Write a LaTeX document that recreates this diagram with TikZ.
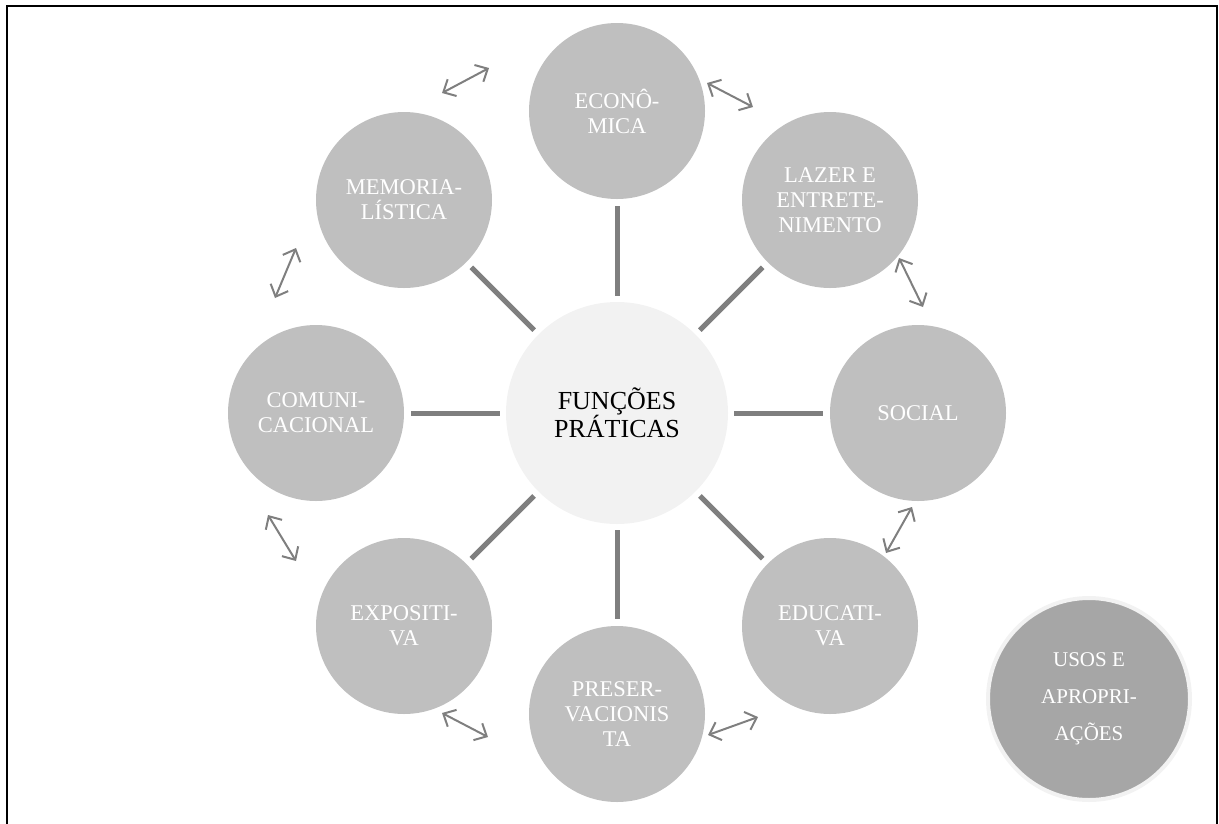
\documentclass[tikz,border=0pt]{standalone}
\usepackage{fontspec}
\setmainfont{Liberation Serif}
\usetikzlibrary{arrows.meta,positioning}
\definecolor{ringgray}{HTML}{BFBFBF}
\definecolor{coregray}{HTML}{F2F2F2}
\definecolor{usegray}{HTML}{A6A6A6}
\definecolor{linegray}{HTML}{7F7F7F}

\begin{document}
\begin{tikzpicture}[
		x=1pt, y=-1pt,
		every node/.style={font=\fontsize{22.5}{25}\selectfont},
		func/.style={circle, fill=ringgray, text=white, minimum size=176pt, inner sep=0pt, align=center},
		spoke/.style={draw=linegray, line width=5pt, shorten <=6pt, shorten >=7pt},
		swap/.style={draw=linegray, line width=2pt, {Straight Barb[length=10pt,width=19pt]}-{Straight Barb[length=10pt,width=19pt]}}
		]
		
		\useasboundingbox (0,0) rectangle (1219,823);
		
		% Frame
		\draw[line width=2.5pt] (7,840) -- (7,6) -- (1217,6) -- (1217,840);
		
		% Center
		\node[
		circle,
		fill=coregray,
		minimum size=222pt,
		inner sep=0pt,
		align=center,
		font=\fontsize{26}{28}\selectfont
		] (core) at (617,413) {FUNÇÕES\\PRÁTICAS};
		
		% Functions
		\node[func] (econ) at (617,111) {ECONÔ-\\MICA};
		\node[func] (lazer) at (830,200) {LAZER E\\ENTRETE-\\NIMENTO};
		\node[func] (social) at (918,413) {SOCIAL};
		\node[func] (educ) at (830,626) {EDUCATI-\\VA};
		\node[func] (preser) at (617,714) {PRESER-\\VACIONIS\\TA};
		\node[func] (expo) at (404,626) {EXPOSITI-\\VA};
		\node[func] (comun) at (316,413) {COMUNI-\\CACIONAL};
		\node[func] (memo) at (404,200) {MEMORIA-\\LÍSTICA};
		
		% Usos
		\node[
		circle,
		fill=usegray,
		draw=coregray,
		line width=4pt,
		minimum size=202pt,
		inner sep=0pt,
		text=white,
		align=center,
		font=\fontsize{21}{37}\selectfont
		] (usos) at (1089,699) {USOS E\\APROPRI-\\AÇÕES};
		
		% Spokes
		\draw[spoke] (core) -- (econ);
		\draw[spoke] (core) -- (lazer);
		\draw[spoke] (core) -- (social);
		\draw[spoke] (core) -- (educ);
		\draw[spoke] (core) -- (preser);
		\draw[spoke] (core) -- (expo);
		\draw[spoke] (core) -- (comun);
		\draw[spoke] (core) -- (memo);
		
		% Double arrows
		\coordinate (memoA) at (442,93);
		\coordinate (econA) at (489,68);
		\coordinate (econB) at (707,83);
		\coordinate (lazerA) at (753,107);
		\coordinate (lazerB) at (899,258);
		\coordinate (socialA) at (923,307);
		\coordinate (socialB) at (912,507);
		\coordinate (educA) at (886,553);
		\coordinate (educB) at (758,717);
		\coordinate (preserA) at (708,735);
		\coordinate (preserB) at (488,737);
		\coordinate (expoA) at (442,713);
		\coordinate (expoB) at (296,561);
		\coordinate (comunA) at (268,515);
		\coordinate (comunB) at (275,298);
		\coordinate (memoB) at (296,248);
		
		\draw[swap] (memoA) -- (econA);
		\draw[swap] (econB) -- (lazerA);
		\draw[swap] (lazerB) -- (socialA);
		\draw[swap] (socialB) -- (educA);
		\draw[swap] (educB) -- (preserA);
		\draw[swap] (preserB) -- (expoA);
		\draw[swap] (expoB) -- (comunA);
		\draw[swap] (comunB) -- (memoB);
		
	\end{tikzpicture}
\end{document}
